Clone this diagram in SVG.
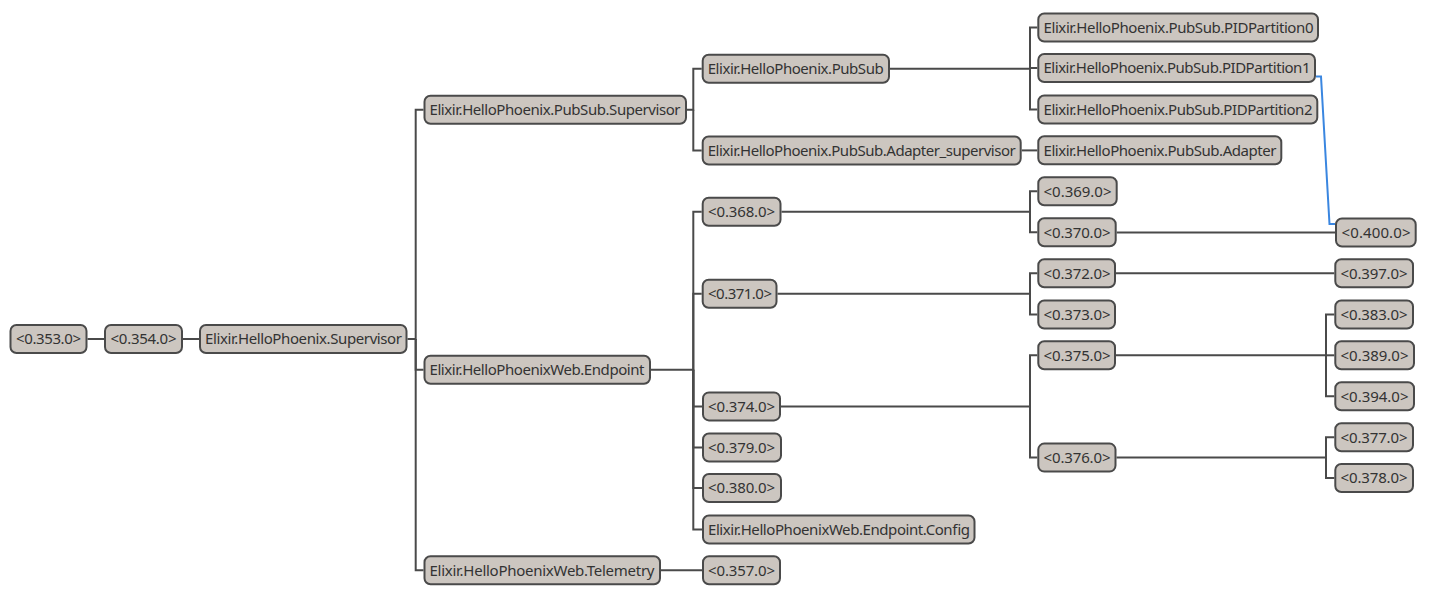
<svg xmlns="http://www.w3.org/2000/svg" width="1440" height="610" viewBox="0 0 1440 610">
<style>
.n rect{fill:#ccc6c0;stroke:#4a4a4a;stroke-width:2}
.n text{font-family:"Noto Sans","Open Sans","Liberation Sans",sans-serif;font-size:15px;fill:#333}
.e path{fill:none;stroke:#4a4a4a;stroke-width:2}
.e path.b{stroke:#3a86e0}
</style>
<rect width="1440" height="610" fill="#fff"/>
<g class="e" id="connectors">
<path d="M87.5 339H104"/>
<path d="M183 339H199"/>
<path d="M407.5 339H415.7V109.7H423.5"/>
<path d="M415.7 339V369.7H423.5"/>
<path d="M415.7 339V570.3H423.5"/>
<path d="M687 109.7H693.3V68.7H701.7"/>
<path d="M693.3 109.7V150.5H701.7"/>
<path d="M651 369.7H693.3V211.7H701.7"/>
<path d="M693.3 369.7V293.8H701.7"/>
<path d="M693.3 369.7V406.4H702"/>
<path d="M693.3 369.7V447.5H702"/>
<path d="M693.3 369.7V488H702"/>
<path d="M693.3 369.7V529.5H702"/>
<path d="M661 570.3H702"/>
<path d="M890 68.7H1030V27.5H1037.3"/>
<path d="M1030 68.7V68H1037.3"/>
<path d="M1030 68.7V109.5H1037.3"/>
<path d="M1021.7 150.4H1037.3"/>
<path d="M781.5 211.7H1030V191.2H1037.3"/>
<path d="M1030 211.7V232.3H1037.3"/>
<path d="M777.5 293.8H1030V273.3H1037.3"/>
<path d="M1030 293.8V314.5H1037.3"/>
<path d="M781 406.4H1030V355.3H1037.3"/>
<path d="M1030 406.4V457.5H1037.3"/>
<path d="M1116.7 232.4H1335"/>
<path d="M1116 273.2H1334.3"/>
<path d="M1116 355.3H1326V314.5H1334.3"/>
<path d="M1326 355.3H1334.3"/>
<path d="M1326 355.3V396.3H1334.3"/>
<path d="M1116.5 457.6H1326V437.3H1334.3"/>
<path d="M1326 457.6V478H1334.3"/>
<path class="b" d="M1316 76.5H1321L1329.5 224H1335"/>
</g>
<g class="n" id="n353"><rect x="10.5" y="325" width="76" height="28" rx="6"/><text x="16" y="344.3" textLength="65">&lt;0.353.0&gt;</text></g>
<g class="n" id="n354"><rect x="105" y="325" width="77" height="28" rx="6"/><text x="110.5" y="344.3" textLength="66">&lt;0.354.0&gt;</text></g>
<g class="n" id="sup"><rect x="200" y="325" width="206.5" height="28" rx="6"/><text x="205" y="344.3" textLength="197">Elixir.HelloPhoenix.Supervisor</text></g>
<g class="n" id="pss"><rect x="424.5" y="95.7" width="261.5" height="28" rx="6"/><text x="429.5" y="115" textLength="251">Elixir.HelloPhoenix.PubSub.Supervisor</text></g>
<g class="n" id="ep"><rect x="424.5" y="355.7" width="225.5" height="28" rx="6"/><text x="429.5" y="375" textLength="215">Elixir.HelloPhoenixWeb.Endpoint</text></g>
<g class="n" id="tel"><rect x="424.5" y="556.3" width="235.5" height="28" rx="6"/><text x="429.5" y="575.6" textLength="225">Elixir.HelloPhoenixWeb.Telemetry</text></g>
<g class="n" id="pubsub"><rect x="702.7" y="54.7" width="186.3" height="28" rx="6"/><text x="707.7" y="74" textLength="176">Elixir.HelloPhoenix.PubSub</text></g>
<g class="n" id="adsup"><rect x="702.7" y="136.5" width="318" height="28" rx="6"/><text x="707.7" y="155.8" textLength="308">Elixir.HelloPhoenix.PubSub.Adapter_supervisor</text></g>
<g class="n" id="n368"><rect x="702.7" y="197.7" width="77.8" height="28" rx="6"/><text x="708" y="217" textLength="67">&lt;0.368.0&gt;</text></g>
<g class="n" id="n371"><rect x="702.7" y="279.8" width="73.8" height="28" rx="6"/><text x="708" y="299.1" textLength="64">&lt;0.371.0&gt;</text></g>
<g class="n" id="n374"><rect x="703" y="392.4" width="77" height="28" rx="6"/><text x="708" y="411.7" textLength="67">&lt;0.374.0&gt;</text></g>
<g class="n" id="n379"><rect x="703" y="433.5" width="78" height="28" rx="6"/><text x="708" y="452.8" textLength="67">&lt;0.379.0&gt;</text></g>
<g class="n" id="n380"><rect x="703" y="474" width="78" height="28" rx="6"/><text x="708" y="493.3" textLength="67">&lt;0.380.0&gt;</text></g>
<g class="n" id="cfg"><rect x="703" y="515.5" width="271.5" height="28" rx="6"/><text x="708" y="534.8" textLength="262">Elixir.HelloPhoenixWeb.Endpoint.Config</text></g>
<g class="n" id="n357"><rect x="703" y="556.3" width="77" height="28" rx="6"/><text x="708" y="575.6" textLength="67">&lt;0.357.0&gt;</text></g>
<g class="n" id="pid0"><rect x="1038.3" y="13.5" width="279.7" height="28" rx="6"/><text x="1043.5" y="32.8" textLength="270">Elixir.HelloPhoenix.PubSub.PIDPartition0</text></g>
<g class="n" id="pid1"><rect x="1038.3" y="54" width="276.7" height="28" rx="6"/><text x="1043.5" y="73.3" textLength="267">Elixir.HelloPhoenix.PubSub.PIDPartition1</text></g>
<g class="n" id="pid2"><rect x="1038.3" y="95.5" width="279" height="28" rx="6"/><text x="1043.5" y="114.8" textLength="269">Elixir.HelloPhoenix.PubSub.PIDPartition2</text></g>
<g class="n" id="adapter"><rect x="1038.3" y="136.3" width="243" height="28" rx="6"/><text x="1043.5" y="155.6" textLength="233">Elixir.HelloPhoenix.PubSub.Adapter</text></g>
<g class="n" id="n369"><rect x="1038.3" y="177.2" width="78.4" height="28" rx="6"/><text x="1043.5" y="196.5" textLength="68">&lt;0.369.0&gt;</text></g>
<g class="n" id="n370"><rect x="1038.3" y="218.3" width="77.4" height="28" rx="6"/><text x="1043.5" y="237.6" textLength="67">&lt;0.370.0&gt;</text></g>
<g class="n" id="n372"><rect x="1038.3" y="259.3" width="76.7" height="28" rx="6"/><text x="1043.5" y="278.6" textLength="67">&lt;0.372.0&gt;</text></g>
<g class="n" id="n373"><rect x="1038.3" y="300.5" width="76.7" height="28" rx="6"/><text x="1043.5" y="319.8" textLength="67">&lt;0.373.0&gt;</text></g>
<g class="n" id="n375"><rect x="1038.3" y="341.3" width="76.7" height="28" rx="6"/><text x="1043.5" y="360.6" textLength="67">&lt;0.375.0&gt;</text></g>
<g class="n" id="n376"><rect x="1038.3" y="443.6" width="77.2" height="28" rx="6"/><text x="1043.5" y="462.9" textLength="67">&lt;0.376.0&gt;</text></g>
<g class="n" id="n400"><rect x="1336" y="218.5" width="79.7" height="28" rx="6"/><text x="1341.5" y="237.8" textLength="69">&lt;0.400.0&gt;</text></g>
<g class="n" id="n397"><rect x="1335.3" y="259.2" width="77.7" height="28" rx="6"/><text x="1340.5" y="278.5" textLength="67">&lt;0.397.0&gt;</text></g>
<g class="n" id="n383"><rect x="1335.3" y="300.5" width="77.7" height="28" rx="6"/><text x="1340.5" y="319.8" textLength="67">&lt;0.383.0&gt;</text></g>
<g class="n" id="n389"><rect x="1335.3" y="341.3" width="78.7" height="28" rx="6"/><text x="1340.5" y="360.6" textLength="68">&lt;0.389.0&gt;</text></g>
<g class="n" id="n394"><rect x="1335.3" y="382.3" width="78.7" height="28" rx="6"/><text x="1340.5" y="401.6" textLength="68">&lt;0.394.0&gt;</text></g>
<g class="n" id="n377"><rect x="1335.3" y="423.3" width="77.7" height="28" rx="6"/><text x="1340.5" y="442.6" textLength="67">&lt;0.377.0&gt;</text></g>
<g class="n" id="n378"><rect x="1335.3" y="464" width="77.7" height="28" rx="6"/><text x="1340.5" y="483.3" textLength="67">&lt;0.378.0&gt;</text></g>
</svg>
